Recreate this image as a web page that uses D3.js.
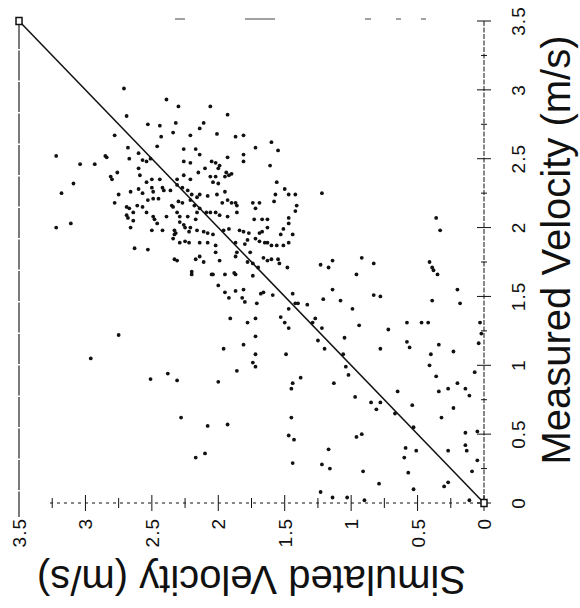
<!DOCTYPE html>
<html><head><meta charset="utf-8">
<script src="https://cdn.jsdelivr.net/npm/d3@7"></script>
<style>
html,body{margin:0;padding:0;background:#fff;}
svg{display:block;font-family:"Liberation Sans",Arial,Helvetica,sans-serif;}
</style></head>
<body><svg id="chart" width="580" height="608"></svg>
<script>
// Simulated velocity (m/s) of each point
const simulated = [
3.22,3.04,3.09,3.18,3.22,3.11,2.96,2.75,2.71,2.39,2.30,2.06,1.93,2.69,2.53,2.44,2.32,2.11,2.14,2.01,
2.78,2.43,2.34,2.21,2.68,2.46,2.26,2.17,2.14,2.05,1.93,2.85,2.84,2.93,2.60,2.67,2.57,2.54,2.51,2.26,
2.21,2.10,2.02,2.00,2.76,2.60,2.59,2.81,2.80,2.50,2.54,2.44,2.31,2.26,2.21,2.15,2.06,2.04,2.00,1.95,
2.75,2.66,2.60,2.57,2.50,2.49,2.42,2.41,2.36,2.31,2.27,2.23,2.20,2.16,2.14,2.08,2.01,1.95,2.78,2.69,
2.67,2.61,2.57,2.53,2.49,2.45,2.35,2.34,2.30,2.27,2.21,2.18,2.14,1.97,1.93,2.69,2.68,2.64,2.54,2.49,
2.39,2.31,2.29,2.23,2.16,2.09,2.02,2.66,2.64,2.50,2.48,2.46,2.42,2.33,2.32,2.29,2.26,2.25,2.21,2.22,
2.16,2.17,2.34,2.33,2.29,2.25,2.22,2.63,2.53,2.33,2.31,2.17,2.14,2.20,2.20,2.51,2.38,2.31,2.28,2.17,
1.87,1.81,1.72,1.60,1.55,1.81,1.81,1.99,1.61,2.02,1.94,1.92,1.90,1.56,1.50,1.57,1.47,1.42,1.22,1.90,
1.87,1.86,1.74,1.69,1.58,1.41,1.42,1.72,1.86,1.93,1.73,1.67,1.63,1.47,2.06,1.99,1.47,2.11,2.08,2.04,
1.96,1.92,1.84,1.81,1.77,1.69,1.67,1.63,1.51,1.53,1.44,2.14,2.08,2.02,2.02,1.87,1.80,1.78,1.72,1.69,
1.65,1.63,1.60,1.56,1.51,1.47,1.86,1.76,1.99,1.87,1.66,1.63,1.60,1.55,1.54,2.11,1.78,1.74,1.70,1.48,
1.23,1.17,1.14,0.92,0.83,2.05,2.04,1.95,1.88,1.87,1.74,2.00,1.95,1.87,1.81,1.68,1.66,1.59,1.82,1.80,
1.92,1.71,1.44,1.42,1.40,1.47,1.33,1.21,1.14,0.96,0.83,0.78,1.08,0.99,1.91,1.78,1.72,1.53,1.50,1.47,
1.27,1.29,1.22,0.94,0.72,1.72,1.81,1.96,1.72,1.74,1.72,1.49,1.25,1.20,1.05,1.06,0.78,1.04,1.02,1.86,
2.00,1.38,1.44,1.45,1.13,0.97,0.65,2.08,1.93,2.10,1.45,1.47,1.43,1.17,1.44,1.22,1.16,0.96,0.92,0.91,
0.85,0.81,0.78,0.67,0.79,1.23,1.14,1.03,0.90,0.36,0.33,0.41,0.39,0.38,0.35,0.20,0.39,0.18,0.58,0.47,
0.42,0.58,0.56,0.34,0.40,0.23,0.41,0.36,0.20,0.27,0.34,0.14,0.07,0.03,0.02,0.11,0.04,0.54,0.32,0.23,
0.53,0.14,0.14,0.13,0.27,0.59,0.60,0.51,0.05,0.09,0.57,0.27,0.30,0.53,0.11,0.05
];
// Measured velocity (m/s) of each point
const measured = [
2.52,2.46,2.32,2.25,2.00,2.03,1.05,1.22,3.01,2.93,2.88,2.88,2.82,2.81,2.75,2.74,2.76,2.76,2.72,2.68,
2.67,2.66,2.69,2.67,2.58,2.59,2.57,2.57,2.53,2.48,2.51,2.52,2.51,2.46,2.54,2.50,2.49,2.48,2.50,2.48,
2.47,2.43,2.47,2.43,2.40,2.43,2.38,2.37,2.35,2.35,2.33,2.35,2.35,2.38,2.35,2.40,2.37,2.33,2.32,2.37,
2.24,2.26,2.28,2.25,2.29,2.26,2.29,2.27,2.27,2.31,2.29,2.27,2.24,2.22,2.24,2.23,2.24,2.26,2.18,2.15,
2.14,2.16,2.15,2.20,2.21,2.21,2.16,2.15,2.19,2.18,2.20,2.16,2.14,2.18,2.20,2.09,2.07,2.11,2.11,2.08,
2.08,2.11,2.08,2.08,2.11,2.11,2.11,2.00,2.05,1.98,2.06,2.03,1.98,1.98,1.96,2.04,2.02,2.00,2.00,1.97,
1.98,2.06,1.92,1.95,1.89,1.90,1.89,1.85,1.84,1.77,1.76,1.77,1.79,1.68,1.66,0.90,0.94,0.89,0.62,0.33,
2.66,2.67,2.58,2.62,2.56,2.53,2.48,2.45,2.45,2.37,2.40,2.38,2.39,2.33,2.28,2.24,2.24,2.24,2.25,2.18,
2.18,2.16,2.18,2.18,2.19,2.16,2.12,2.14,2.11,2.08,2.06,2.06,2.06,2.07,2.11,2.09,2.03,1.97,1.96,1.95,
1.98,1.99,1.98,1.97,1.96,1.96,1.97,2.00,1.99,1.95,1.95,1.89,1.89,1.87,1.82,1.89,1.88,1.91,1.92,1.90,
1.89,1.89,1.87,1.87,1.87,1.89,1.82,1.82,1.76,1.79,1.78,1.76,1.77,1.77,1.74,1.75,1.75,1.74,1.71,1.71,
1.73,1.71,1.76,1.78,1.74,1.66,1.66,1.66,1.67,1.66,1.65,1.58,1.53,1.54,1.55,1.52,1.53,1.51,1.49,1.46,
1.49,1.45,1.52,1.45,1.45,1.41,1.44,1.48,1.55,1.66,1.51,1.50,1.47,1.41,1.34,1.31,1.34,1.35,1.31,1.27,
1.34,1.31,1.27,1.29,1.26,1.21,1.15,1.12,1.08,1.02,0.99,1.08,1.18,1.12,1.20,1.08,1.12,0.99,0.93,0.96,
0.88,0.91,0.87,0.83,0.87,0.77,0.81,0.56,0.57,0.36,0.62,0.49,0.46,0.39,0.29,0.28,0.25,0.48,0.50,0.23,
0.73,0.68,0.73,0.65,0.14,0.08,0.04,0.04,0.02,2.07,1.98,1.75,1.71,1.69,1.66,1.55,1.47,1.45,1.31,1.31,
1.31,1.17,1.13,1.15,1.08,1.10,1.00,0.92,0.87,0.83,0.81,0.83,0.95,1.31,1.23,0.78,1.16,0.71,0.62,0.69,
0.55,0.51,0.42,0.38,0.38,0.40,0.33,0.38,0.31,0.23,0.22,0.15,0.12,0.10,0.02,0.52
];
// Axis ticks (same for both axes)
const majorTicks = [0, 0.5, 1, 1.5, 2, 2.5, 3, 3.5];
const tickLabels = ["0", "0.5", "1", "1.5", "2", "2.5", "3", "3.5"];
const minorTicks = [0.25, 0.75, 1.25, 1.75, 2.25, 2.75, 3.25];
// 1:1 reference line endpoints
const oneToOne = [0, 3.5];
const measTitle = "Measured Velocity (m/s)";
const simTitle = "Simulated Velocity (m/s)";

const svg = d3.select("#chart");
// Figure is printed rotated 90° counter-clockwise:
// simulated runs right-to-left along the bottom, measured runs bottom-to-top on the right.
const xSim = d3.scaleLinear().domain([0, 3.5]).range([484, 19]);
const yMeas = d3.scaleLinear().domain([0, 3.5]).range([503, 21]);
const ink = "#111";

// frame: left solid edge and sparse top edge
svg.append("line").attr("x1", xSim(3.5)).attr("x2", xSim(3.5))
  .attr("y1", yMeas(3.5) - 2).attr("y2", 517)
  .attr("stroke", "#222").attr("stroke-width", 1.2).attr("stroke-dasharray", "30,1.5");
svg.append("line").attr("x1", 175).attr("x2", 445)
  .attr("y1", 19).attr("y2", 19)
  .attr("stroke", "#444").attr("stroke-width", 1).attr("stroke-dasharray", "10,60,30,90,6,25,5,20,5,500");

// Right axis (measured)
const rightAxis = svg.append("g").attr("transform", `translate(${xSim(0)},0)`);
rightAxis.append("line").attr("x1", 0).attr("x2", 0)
  .attr("y1", yMeas(3.5)).attr("y2", yMeas(0))
  .attr("stroke", ink).attr("stroke-width", 1).attr("stroke-dasharray", "5,1.5");
rightAxis.selectAll("line.maj").data(majorTicks).join("line")
  .attr("class", "maj")
  .attr("x1", -7).attr("x2", 7)
  .attr("y1", d => yMeas(d)).attr("y2", d => yMeas(d))
  .attr("stroke", ink).attr("stroke-width", 1);
rightAxis.selectAll("line.min").data(minorTicks).join("line")
  .attr("class", "min")
  .attr("x1", -3).attr("x2", 3)
  .attr("y1", d => yMeas(d)).attr("y2", d => yMeas(d))
  .attr("stroke", ink).attr("stroke-width", 1);
rightAxis.selectAll("text").data(majorTicks).join("text")
  .attr("transform", d => `translate(41,${yMeas(d)}) rotate(-90)`)
  .attr("text-anchor", "middle")
  .attr("font-size", 19).attr("letter-spacing", 1).attr("fill", ink)
  .text((d, i) => tickLabels[i]);

// Bottom axis (simulated)
const bottomAxis = svg.append("g").attr("transform", `translate(0,${yMeas(0)})`);
bottomAxis.append("line").attr("x1", 50).attr("x2", xSim(0))
  .attr("y1", 0).attr("y2", 0)
  .attr("stroke", ink).attr("stroke-width", 1).attr("stroke-dasharray", "3,4");
bottomAxis.selectAll("line.maj").data(majorTicks.filter(d => d < 3.5)).join("line")
  .attr("class", "maj")
  .attr("x1", d => xSim(d)).attr("x2", d => xSim(d))
  .attr("y1", -8).attr("y2", 8)
  .attr("stroke", ink).attr("stroke-width", 1);
bottomAxis.selectAll("line.min").data(minorTicks).join("line")
  .attr("class", "min")
  .attr("x1", d => xSim(d)).attr("x2", d => xSim(d))
  .attr("y1", -5).attr("y2", 5)
  .attr("stroke", ink).attr("stroke-width", 1);
bottomAxis.selectAll("text").data(majorTicks).join("text")
  .attr("transform", d => `translate(${xSim(d) + 7},15) rotate(-90)`)
  .attr("text-anchor", "end")
  .attr("font-size", 19).attr("letter-spacing", 1).attr("fill", ink)
  .text((d, i) => tickLabels[i]);

// 1:1 line with end markers
svg.append("line")
  .attr("x1", xSim(oneToOne[0])).attr("y1", yMeas(oneToOne[0]))
  .attr("x2", xSim(oneToOne[1])).attr("y2", yMeas(oneToOne[1]))
  .attr("stroke", ink).attr("stroke-width", 1.5);
svg.selectAll("rect.end").data(oneToOne).join("rect")
  .attr("class", "end")
  .attr("x", d => xSim(d) - 3).attr("y", d => yMeas(d) - 3.5)
  .attr("width", 6).attr("height", 7)
  .attr("fill", "#fff").attr("stroke", ink).attr("stroke-width", 1.5);

// points
svg.append("g").selectAll("circle").data(simulated.map((s, i) => [s, measured[i]]))
  .join("circle")
  .attr("cx", d => xSim(d[0])).attr("cy", d => yMeas(d[1]))
  .attr("r", 1.9).attr("fill", ink);

// axis titles
svg.append("text")
  .attr("transform", `translate(570,${(yMeas(0) + yMeas(3.5)) / 2 - 12}) rotate(-90)`)
  .attr("text-anchor", "middle").attr("font-size", 40).attr("fill", ink)
  .text(measTitle);
svg.append("text")
  .attr("transform", `translate(${(xSim(0) + xSim(3.5)) / 2},566) rotate(180)`)
  .attr("text-anchor", "middle").attr("font-size", 40).attr("fill", ink)
  .text(simTitle);
</script></body></html>
